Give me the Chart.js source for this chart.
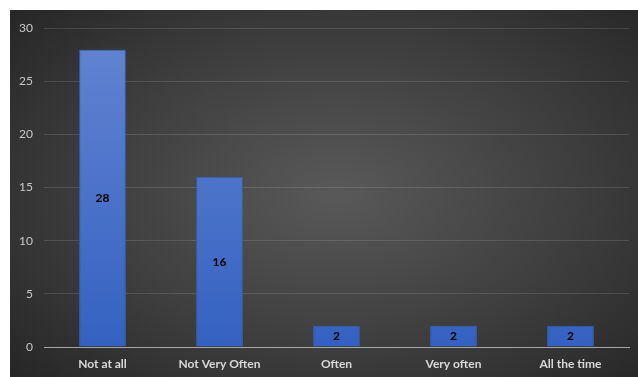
<!DOCTYPE html>
<html>
<head>
<meta charset="utf-8">
<script src="https://cdn.jsdelivr.net/npm/chart.js@4"></script>
<style>
  html, body { margin: 0; padding: 0; background: #fff; overflow: hidden; width: 638px; height: 377px; }
  #wrap {
    position: absolute; left: 10px; top: 10px; width: 628px; height: 367px;
    background: radial-gradient(ellipse 70% 75% at 52% 50%, #595959 0%, #3e3e3e 55%, #262626 100%);
  }
  canvas { display: block; }
</style>
</head>
<body>
<div id="wrap"><canvas id="chart" width="628" height="367"></canvas></div>
<script>
// categories and values
const categories = ["Not at all", "Not Very Often", "Often", "Very often", "All the time"];
const counts = [28, 16, 2, 2, 2];
const yTicks = [0, 5, 10, 15, 20, 25, 30];

// value labels in the middle of each bar
const barLabels = {
    id: "barLabels",
    afterDatasetsDraw(chart) {
        const ctx = chart.ctx;
        const meta = chart.getDatasetMeta(0);
        ctx.save();
        ctx.font = "bold 12px Lato, 'Open Sans', sans-serif";
        ctx.fillStyle = "#000";
        ctx.textAlign = "center";
        ctx.textBaseline = "middle";
        meta.data.forEach((bar, i) => {
            const mid = (bar.y + bar.base) / 2;
            ctx.fillText(counts[i], bar.x, mid);
        });
        ctx.restore();
    }
};

function barFill(context) {
    const area = context.chart.chartArea;
    if (!area) return "#4a72c8";
    const g = context.chart.ctx.createLinearGradient(0, area.top, 0, area.bottom);
    g.addColorStop(0, "#6385d2");
    g.addColorStop(1, "#3461c1");
    return g;
}

const config = {
    type: "bar",
    data: {
        labels: categories,
        datasets: [{
            data: counts,
            backgroundColor: barFill,
            borderColor: "#3b5ea8",
            borderWidth: 1,
            barPercentage: 0.4,
            categoryPercentage: 1
        }]
    },
    options: {
        responsive: false,
        animation: false,
        layout: { padding: { top: 14, right: 9, left: 0, bottom: 0 } },
        plugins: {
            legend: { display: false },
            tooltip: { enabled: false }
        },
        scales: {
            x: {
                afterFit: (s) => { s.height = 30; },
                grid: { display: false, drawTicks: false },
                border: { color: "#a6a6a6", width: 1 },
                ticks: {
                    color: "#d9d9d9",
                    padding: 10,
                    font: { family: "Lato, 'Open Sans', sans-serif", size: 12, weight: "bold" }
                }
            },
            y: {
                min: 0,
                max: 30,
                afterFit: (s) => { s.width = 34; },
                afterBuildTicks: (s) => { s.ticks = yTicks.map(v => ({ value: v })); },
                grid: { color: "rgba(255,255,255,0.12)", drawTicks: false },
                border: { display: false },
                ticks: {
                    color: "#c8c8c8",
                    padding: 11,
                    font: { family: "Lato, 'Open Sans', sans-serif", size: 12 }
                }
            }
        }
    },
    plugins: [barLabels]
};

new Chart(document.getElementById("chart").getContext("2d"), config);
</script>
</body>
</html>
